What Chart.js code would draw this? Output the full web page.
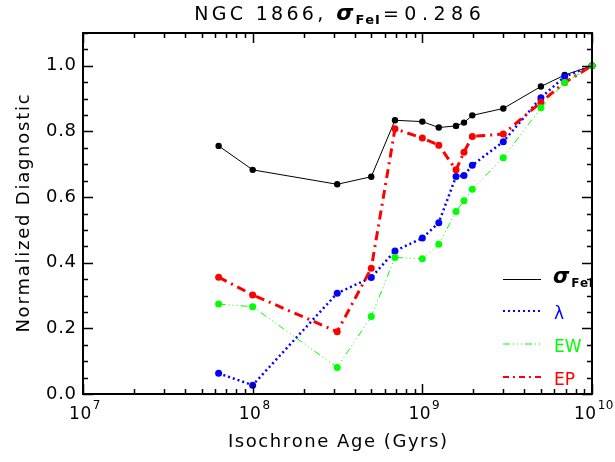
<!DOCTYPE html>
<html>
<head>
<meta charset="utf-8">
<script src="https://cdn.jsdelivr.net/npm/chart.js@4/dist/chart.umd.min.js"></script>
<style>
html,body{margin:0;padding:0;background:#fff;}
#wrap{width:615px;height:462px;}
</style>
</head>
<body>
<div id="wrap"><canvas id="c" width="615" height="462"></canvas></div>
<script>
// Data
const ages = [6.3e7, 1e8, 3.15e8, 5e8, 6.9e8, 1e9, 1.25e9, 1.58e9, 1.76e9, 1.97e9, 3e9, 5e9, 6.9e9, 1e10];
const sigmaFeI = [0.756, 0.683, 0.639, 0.662, 0.834, 0.830, 0.812, 0.817, 0.827, 0.849, 0.870, 0.937, 0.972, 1.0];
const lambdaVals = [0.063, 0.027, 0.307, 0.355, 0.436, 0.475, 0.522, 0.663, 0.666, 0.697, 0.769, 0.903, 0.967, 1.0];
const ewVals = [0.274, 0.266, 0.081, 0.236, 0.416, 0.412, 0.456, 0.556, 0.589, 0.624, 0.720, 0.872, 0.949, 1.0];
const epVals = [0.356, 0.302, 0.190, 0.383, 0.808, 0.780, 0.758, 0.683, 0.737, 0.785, 0.792, 0.889, 0.949, 1.0];
const yTicks = [0.0, 0.2, 0.4, 0.6, 0.8, 1.0];
const xTickExps = [7, 8, 9, 10];
const titleMain = "NGC 1866,";
const titleValue = "=0.286";
const xTitle = "Isochrone Age (Gyrs)";
const yTitle = "Normalized Diagnostic";
const legendNames = ["σ", "λ", "EW", "EP"];

const FONT = '"DejaVu Sans", sans-serif';
const pts = (arr) => ages.map((a, i) => ({x: a, y: arr[i]}));

const series = [
  {label: 'sigma', data: pts(sigmaFeI), color: '#000000', width: 1, dash: [], r: 3.2, order: 4},
  {label: 'lambda', data: pts(lambdaVals), color: '#0000ff', width: 2.5, dash: [2, 3], r: 3.5, order: 3},
  {label: 'EP', data: pts(epVals), color: '#ff0000', width: 3, dash: [9, 5, 2, 5], r: 3.5, order: 2},
  {label: 'EW', data: pts(ewVals), color: '#00ff00', width: 1, dash: [7, 3, 1, 3, 1, 3, 1, 3], r: 3.5, order: 1}
];

function spacedWidth(ctx, text, sp) {
  let w = 0;
  for (const ch of text) w += ctx.measureText(ch).width + sp;
  return w - sp;
}
function drawSpaced(ctx, text, x, y, sp) {
  for (const ch of text) {
    ctx.fillText(ch, x, y);
    x += ctx.measureText(ch).width + sp;
  }
  return x - sp;
}

const decor = {
  id: 'decor',
  afterDraw(chart) {
    const ctx = chart.ctx;
    const a = chart.chartArea;
    const xs = chart.scales.x, ys = chart.scales.y;
    ctx.save();
    ctx.strokeStyle = '#000';
    ctx.fillStyle = '#000';
    // box
    ctx.lineWidth = 2;
    ctx.setLineDash([]);
    ctx.strokeRect(a.left, a.top, a.right - a.left, a.bottom - a.top);
    // y ticks (major every 0.2, minor every 0.05)
    ctx.lineWidth = 1.5;
    for (let k = 0; k <= 22; k++) {
      const v = k * 0.05;
      const y = Math.round(ys.getPixelForValue(v)) + 0.5;
      const major = (k % 4 === 0);
      const len = major ? 10 : 5;
      ctx.beginPath();
      ctx.moveTo(a.left, y); ctx.lineTo(a.left + len, y);
      ctx.moveTo(a.right, y); ctx.lineTo(a.right - len, y);
      ctx.stroke();
    }
    // x ticks
    for (let e = 7; e <= 10; e++) {
      for (let m = 1; m <= 9; m++) {
        if (e === 10 && m > 1) break;
        const v = m * Math.pow(10, e);
        const x = Math.round(xs.getPixelForValue(v)) + 0.5;
        const len = (m === 1) ? 10 : 5;
        ctx.beginPath();
        ctx.moveTo(x, a.bottom); ctx.lineTo(x, a.bottom - len);
        ctx.moveTo(x, a.top); ctx.lineTo(x, a.top + len);
        ctx.stroke();
      }
    }
    // y tick labels
    ctx.font = '18px ' + FONT;
    ctx.textAlign = 'left';
    ctx.textBaseline = 'middle';
    yTicks.forEach(v => {
      const t = v.toFixed(1);
      const w = spacedWidth(ctx, t, 0.7);
      drawSpaced(ctx, t, a.left - 7 - w, ys.getPixelForValue(v), 0.7);
    });
    // x tick labels 10^n
    xTickExps.forEach(e => {
      const x = xs.getPixelForValue(Math.pow(10, e));
      ctx.font = '17px ' + FONT;
      const wb = spacedWidth(ctx, '10', 0.5);
      ctx.font = '12px ' + FONT;
      const we = spacedWidth(ctx, String(e), 0.5);
      const total = wb + we;
      const x0 = x - total / 2 + 1;
      ctx.textAlign = 'left';
      ctx.textBaseline = 'alphabetic';
      ctx.font = '17px ' + FONT;
      drawSpaced(ctx, '10', x0, a.bottom + 25, 0.5);
      ctx.font = '12px ' + FONT;
      drawSpaced(ctx, String(e), x0 + wb + 1.5, a.bottom + 15, 0.5);
    });
    // x title
    ctx.font = '18px ' + FONT;
    ctx.textAlign = 'left';
    ctx.textBaseline = 'alphabetic';
    const xw = spacedWidth(ctx, xTitle, 1.55);
    drawSpaced(ctx, xTitle, (a.left + a.right) / 2 - xw / 2, a.bottom + 53, 1.55);
    // y title
    ctx.save();
    ctx.translate(29, (a.top + a.bottom) / 2);
    ctx.rotate(-Math.PI / 2);
    const yw = spacedWidth(ctx, yTitle, 1.75);
    drawSpaced(ctx, yTitle, -yw / 2, 0, 1.75);
    ctx.restore();
    // title
    const base = 19.5;
    const parts = [
      {t: titleMain, f: '19px ' + FONT, dy: 0, sp: 3.3, after: 13},
      {t: 'σ', f: 'italic bold 22px ' + FONT, dy: 0, sp: 0, after: 2},
      {t: 'FeI', f: 'bold 13px ' + FONT, dy: 4, sp: 1, after: 3},
      {t: titleValue, f: '19px ' + FONT, dy: 0, sp: 5.5, after: 0}
    ];
    let tw = 0;
    parts.forEach(p => { ctx.font = p.f; p.w = spacedWidth(ctx, p.t, p.sp); tw += p.w + p.after; });
    let tx = (a.left + a.right) / 2 - tw / 2;
    parts.forEach(p => { ctx.font = p.f; drawSpaced(ctx, p.t, tx, base + p.dy, p.sp); tx += p.w + p.after; });
    // legend
    const legY = [279.5, 311, 344, 377];
    const legOrder = [0, 1, 3, 2];
    legOrder.forEach((si, k) => {
      const s = series[si];
      ctx.strokeStyle = s.color;
      ctx.lineWidth = si === 1 ? 2 : (si === 2 ? 2 : 1.2);
      ctx.setLineDash(si === 1 ? [2, 3] : s.dash.length ? (si === 2 ? [6, 4, 2, 4] : s.dash) : []);
      ctx.beginPath();
      ctx.moveTo(503, legY[k]); ctx.lineTo(541, legY[k]);
      ctx.stroke();
      ctx.setLineDash([]);
      ctx.fillStyle = s.color;
      ctx.textAlign = 'left';
      ctx.textBaseline = 'alphabetic';
      if (si === 0) {
        ctx.font = 'italic bold 21px ' + FONT;
        ctx.fillText(legendNames[0], 553, legY[k] + 3);
        const w = ctx.measureText(legendNames[0]).width;
        ctx.font = 'bold 12px ' + FONT;
        drawSpaced(ctx, 'FeI', 553 + w + 2, legY[k] + 7, 0.5);
      } else {
        ctx.font = '17px ' + FONT;
        const label = si === 1 ? legendNames[1] : (si === 3 ? legendNames[2] : legendNames[3]);
        drawSpaced(ctx, label, 554, legY[k] + 1 + 6.5, 0);
      }
    });
    ctx.restore();
  }
};

new Chart(document.getElementById('c'), {
  type: 'line',
  data: {
    datasets: series.map(s => ({
      label: s.label,
      data: s.data,
      borderColor: s.color,
      backgroundColor: s.color,
      borderWidth: s.width,
      borderDash: s.dash,
      pointRadius: s.r,
      pointHoverRadius: s.r,
      pointBorderWidth: 0,
      pointBackgroundColor: s.color,
      pointBorderColor: s.color,
      tension: 0,
      fill: false,
      clip: false,
      order: s.order
    }))
  },
  options: {
    responsive: false,
    animation: false,
    events: [],
    layout: {padding: {left: 83, right: 23, top: 33, bottom: 68}},
    plugins: {legend: {display: false}, title: {display: false}, tooltip: {enabled: false}},
    scales: {
      x: {
        type: 'logarithmic', min: 1e7, max: 1e10,
        grid: {display: false}, border: {display: false},
        ticks: {display: false},
        afterFit(s) { s.height = 0; }
      },
      y: {
        type: 'linear', min: 0, max: 1.1,
        grid: {display: false}, border: {display: false},
        ticks: {display: false},
        afterFit(s) { s.width = 0; }
      }
    }
  },
  plugins: [decor]
});
</script>
</body>
</html>
